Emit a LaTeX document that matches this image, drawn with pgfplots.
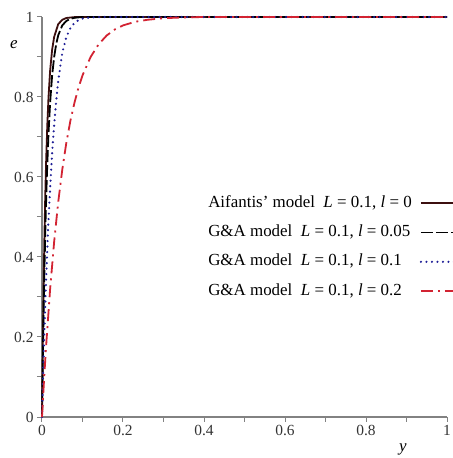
\documentclass[border=0pt]{standalone}
\usepackage{pgfplots}
\pgfplotsset{compat=1.18}
\usepackage{fontspec}
\setmainfont{Liberation Serif}
\definecolor{solidc}{RGB}{60,15,15}
\definecolor{dotc}{RGB}{30,30,150}
\definecolor{redc}{RGB}{210,35,50}
\definecolor{axc}{RGB}{130,130,130}
\begin{document}
\begin{tikzpicture}
\begin{axis}[
  scale only axis, width=405bp, height=400bp,
  xmin=0, xmax=1, ymin=0, ymax=1,
  axis x line=bottom, axis y line=left,
  axis line style={axc, line width=1.3bp, -},
  xtick={0,0.2,0.4,0.6,0.8,1}, minor xtick={0.1,0.3,0.5,0.7,0.9},
  ytick={0,0.2,0.4,0.6,0.8,1}, minor ytick={0.1,0.3,0.5,0.7,0.9},
  tick style={axc, line width=1bp}, tick align=outside,
  major tick length=5bp, minor tick length=5bp,
  ticklabel style={font=\fontsize{15.5}{18}\selectfont, text=black!80},
  /pgf/number format/assume math mode=true,
  clip=false,
  xlabel={\textit{y}},
  xlabel style={at={(axis description cs:0.891,0)}, anchor=center, yshift=-32bp, font=\fontsize{17}{20}\selectfont},
  ylabel={\textit{e}},
  ylabel style={rotate=-90, at={(axis description cs:0,0.93)}, anchor=center, xshift=-28bp, font=\fontsize{17}{20}\selectfont},
  legend plot pos=right,
  legend cell align=left,
  legend image code/.code={\draw[#1] (0bp,0bp) -- (40bp,0bp);},
  legend style={at={(axis description cs:0.41,0.555)}, anchor=north west,
    draw=none, fill=none, inner sep=0pt, row sep=13.3bp, column sep=8bp,
    font=\fontsize{17}{20}\selectfont,
    nodes={inner sep=0pt, text height=12bp, text depth=4bp}},
]
\addplot[solidc, line width=1.8bp] coordinates {
(0,0) (0.002,0.181) (0.004,0.33) (0.006,0.451) (0.008,0.551) (0.01,0.632)
(0.013,0.727) (0.016,0.798) (0.02,0.865) (0.025,0.918) (0.03,0.95)
(0.04,0.982) (0.05,0.993) (0.06,0.9975) (0.08,0.9997) (0.1,1) (1,1)};
\addlegendentry{Aifantis' model\ \ \textit{L} = 0.1, \textit{l} = 0}
\addplot[black, line width=1.8bp, dash pattern=on 12bp off 3bp] coordinates {
(0,0) (0.003,0.206) (0.006,0.37) (0.009,0.5) (0.012,0.603) (0.016,0.708)
(0.02,0.785) (0.025,0.854) (0.03,0.9) (0.035,0.932) (0.04,0.954)
(0.05,0.979) (0.06,0.99) (0.07,0.9954) (0.08,0.998) (0.1,1) (1,1)};
\addlegendentry{G\&A model\ \ \textit{L} = 0.1, \textit{l} = 0.05}
\addplot[dotc, line width=2.4bp, line cap=round, dash pattern=on 0bp off 5.5bp] coordinates {
(0,0) (0.005,0.19) (0.01,0.34) (0.015,0.47) (0.02,0.57) (0.025,0.66)
(0.03,0.73) (0.035,0.79) (0.04,0.84) (0.05,0.91) (0.06,0.95) (0.07,0.972)
(0.08,0.985) (0.09,0.992) (0.1,0.996) (0.12,0.999) (0.15,1) (1,1)};
\addlegendentry{G\&A model\ \ \textit{L} = 0.1, \textit{l} = 0.1}
\addplot[redc, line width=1.8bp, dash pattern=on 12bp off 5bp on 2bp off 5bp] coordinates {
(0,0) (0.005,0.092) (0.01,0.175) (0.02,0.319) (0.03,0.438) (0.04,0.537)
(0.05,0.618) (0.06,0.685) (0.07,0.74) (0.08,0.785) (0.09,0.823) (0.1,0.854)
(0.12,0.9) (0.14,0.932) (0.16,0.954) (0.18,0.969) (0.2,0.979) (0.23,0.988)
(0.26,0.993) (0.3,0.997) (0.35,0.999) (0.4,1) (1,1)};
\addlegendentry{G\&A model\ \ \textit{L} = 0.1, \textit{l} = 0.2}
\end{axis}
\pgfresetboundingbox
\path[use as bounding box] ([shift={(-42bp,-41bp)}]current axis.south west) rectangle ([shift={(6bp,17bp)}]current axis.north east);
\end{tikzpicture}
\end{document}
